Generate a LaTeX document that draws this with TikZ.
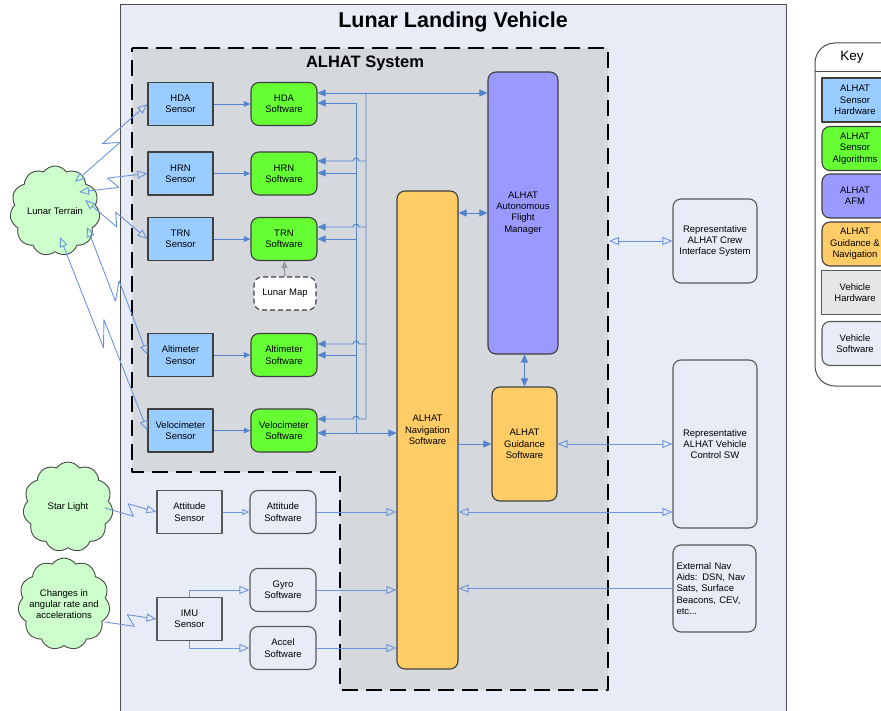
\documentclass[tikz,border=0pt]{standalone}
\usepackage{fontspec}
\setmainfont{Liberation Sans}
\usetikzlibrary{arrows.meta,calc,shapes.symbols}
\definecolor{vehiclebg}{HTML}{E7ECF6}
\definecolor{systemgray}{HTML}{D5D8DD}
\definecolor{sensorblue}{HTML}{99CCFF}
\definecolor{algogreen}{HTML}{66FF33}
\definecolor{afmpurple}{HTML}{9999FF}
\definecolor{gnorange}{HTML}{FFCC66}
\definecolor{hwgray}{HTML}{E6E6E6}
\definecolor{cloudgreen}{HTML}{CCFFCC}
\definecolor{linkblue}{HTML}{5283CC}
\definecolor{openblue}{HTML}{6B94DC}
\definecolor{boxedge}{HTML}{3F3F3F}

% lightning connector: from a cloud point to a sensor
\newcommand\zap[3][]{%
  \draw[zapline,#1] (#2) -- ($(#2)!0.56!(#3)!6pt!-90:(#3)$)
    -- ($(#2)!0.44!(#3)!6pt!90:(#3)$) -- (#3);}

\begin{document}
\begin{tikzpicture}[
  x=1pt,y=-1pt,
  line join=round,
  every node/.style={font=\fontsize{9.5}{11.3}\selectfont,align=center},
  hw/.style={draw=boxedge,line width=1.1pt,minimum width=65pt,minimum height=43pt,inner sep=1pt},
  sensorhw/.style={hw,fill=sensorblue},
  vehiclehw/.style={hw,draw=gray!70!black,fill=vehiclebg},
  sw/.style={hw,rounded corners=8pt,minimum width=66pt},
  sensoralgo/.style={sw,fill=algogreen},
  afmbox/.style={sw,fill=afmpurple},
  gnbox/.style={sw,fill=gnorange},
  vehiclesw/.style={sw,draw=gray!70!black,fill=vehiclebg},
  mapbox/.style={sw,fill=white,dash pattern=on 5pt off 3pt,minimum width=62pt,minimum height=33pt},
  cloudy/.style={cloud,cloud puffs=11,cloud puff arc=110,aspect=1,draw=gray!55!black,
    line width=0.9pt,fill=cloudgreen,minimum width=90pt,minimum height=90pt,inner sep=0pt},
  feed/.style={draw=linkblue,line width=0.9pt,-{Triangle[length=8pt,width=7pt]}},
  feedboth/.style={feed,{Triangle[length=8pt,width=7pt]}-{Triangle[length=8pt,width=7pt]}},
  feedsmall/.style={feed,-{Triangle[length=6.5pt,width=5.5pt]}},
  openlink/.style={draw=openblue,line width=0.9pt,-{Triangle[open,length=10pt,width=8pt]}},
  openboth/.style={openlink,{Triangle[open,length=10pt,width=8pt]}-{Triangle[open,length=10pt,width=8pt]}},
  zapline/.style={draw=openblue,line width=0.8pt},
  hop/.style={start angle=0,end angle=-180,radius=3}
]
  \useasboundingbox (0,0) rectangle (881,711);
  \clip (0,0) rectangle (881,711);

  % Vehicle frame and the dashed ALHAT region.
  \draw[fill=vehiclebg,draw=gray!60!black,line width=1pt] (120,5) rectangle (786,730);
  \path[fill=systemgray,draw=black,line width=1.6pt,dash pattern=on 16pt off 8pt]
    (132,48) -- (608,48) -- (608,690) -- (340,690) -- (340,472) -- (132,472) -- cycle;
  \node[font=\fontsize{21.5}{24}\selectfont\bfseries] (vehicletitle) at (453,22) {Lunar Landing Vehicle};
  \node[font=\fontsize{16.5}{19}\selectfont\bfseries] (systemtitle) at (365,63) {ALHAT System};

  % ALHAT sensors and their algorithms.
  \node[sensorhw] (hda-sen) at (180.5,104) {HDA\\Sensor};
  \node[sensorhw] (hrn-sen) at (180.5,173.5) {HRN\\Sensor};
  \node[sensorhw] (trn-sen) at (180.5,239) {TRN\\Sensor};
  \node[sensorhw] (alt-sen) at (180.5,355) {Altimeter\\Sensor};
  \node[sensorhw] (vel-sen) at (180.5,430.5) {Velocimeter\\Sensor};

  \node[sensoralgo] (hda-sw) at (284,104) {HDA\\Software};
  \node[sensoralgo] (hrn-sw) at (284,173.5) {HRN\\Software};
  \node[sensoralgo] (trn-sw) at (284,239) {TRN\\Software};
  \node[sensoralgo] (alt-sw) at (284,355) {Altimeter\\Software};
  \node[sensoralgo] (vel-sw) at (284,430.5) {Velocimeter\\Software};
  \node[mapbox] (lunarmap) at (285,293.5) {Lunar Map};

  % Guidance, navigation and flight management.
  \node[gnbox,minimum width=61pt,minimum height=478pt] (nav) at (427.5,430) {ALHAT\\Navigation\\Software};
  \node[afmbox,minimum width=70pt,minimum height=282pt] (afm) at (523,213) {ALHAT\\Autonomous\\Flight\\Manager};
  \node[gnbox,minimum width=65pt,minimum height=114pt] (guid) at (524.5,444) {ALHAT\\Guidance\\Software};

  % Vehicle side boxes.
  \node[vehiclesw,minimum width=84pt,minimum height=84pt] (crew) at (715,241) {Representative\\ALHAT Crew\\Interface System};
  \node[vehiclesw,minimum width=84pt,minimum height=168pt] (vehctl) at (715,444) {Representative\\ALHAT Vehicle\\Control SW};
  \node[vehiclesw,minimum width=83pt,minimum height=87pt,text width=76pt,inner sep=3pt,align=left] (extnav) at (714.5,588.5)
    {External Nav\\Aids: DSN, Nav\\Sats, Surface\\Beacons, CEV,\\etc...};
  \node[vehiclehw] (att-sen) at (189.5,512) {Attitude\\Sensor};
  \node[vehiclesw] (att-sw) at (283,512) {Attitude\\Software};
  \node[vehiclesw] (gyro-sw) at (283,590) {Gyro\\Software};
  \node[vehiclesw] (accel-sw) at (283,648) {Accel\\Software};
  \node[vehiclehw] (imu-sen) at (189.5,619) {IMU\\Sensor};

  % Outside sources.
  \node[cloudy] (terrain) at (55,211) {};
  \node (terraintext) at (terrain) {Lunar Terrain};
  \node[cloudy] (starlight) at (68,507) {};
  \node (startext) at (starlight) {Star Light};
  \node[cloudy,minimum width=92pt,minimum height=92pt] (rates) at (64,604) {};
  \node (ratestext) at (rates) {Changes in\\angular rate and\\accelerations};

  % Sensor data into the algorithms.
  \foreach \n in {hda,hrn,trn,alt,vel} {
    \draw[feedsmall] (\n-sen) -- (\n-sw);
  }
  \draw[draw=gray!80,line width=1.2pt,-{Triangle[length=7pt,width=6pt]}] (lunarmap) -- (trn-sw);

  % Bus to the flight manager (x=366) and to navigation (x=356).
  \draw[feedboth] (hda-sw.east |- 0,93) -- (afm.west |- 0,93);
  \draw[feed] (366,93) -- (366,419) -- (359,419) arc[hop] -- (vel-sw.east |- 0,419);
  \foreach \n/\ya in {hrn/161,trn/227,alt/344} {
    \draw[feed] (366,\ya) -- (359,\ya) arc[hop] -- (\n-sw.east |- 0,\ya);
  }
  \draw[draw=linkblue,line width=0.9pt] (356,103) -- (356,433);
  \foreach \n/\yb in {hda/103,hrn/173,trn/239,alt/355} {
    \draw[feed] (356,\yb) -- (\n-sw.east |- 0,\yb);
  }
  \draw[feedboth] (vel-sw.east |- 0,433) -- (nav.west |- 0,433);

  \draw[feedboth] (nav.east |- 0,213) -- (afm.west |- 0,213);
  \draw[feedboth] (guid.north) -- (guid.north |- afm.south);
  \draw[feed] (nav.east |- 0,512) -- (nav.east |- 0,444) -- (guid.west);

  % Links to the vehicle.
  \coordinate (crewport) at (609,241);
  \draw[openboth] (crewport) -- (crew.west);
  \draw[openboth] (guid.east) -- (vehctl.west |- guid.east);
  \draw[openboth] (nav.east |- 0,512) -- (vehctl.west |- 0,512);
  \draw[openlink] (extnav.west) -- (nav.east |- extnav.west);

  \draw[openlink,-{Triangle[open,length=7pt,width=6pt]}] (att-sen) -- (att-sw);
  \draw[openlink] (att-sw) -- (nav.west |- att-sw);
  \draw[openlink] (gyro-sw) -- (nav.west |- gyro-sw);
  \draw[openlink] (accel-sw) -- (nav.west |- accel-sw);
  \draw[openlink] (imu-sen.north) |- (gyro-sw.west);
  \draw[openlink] (imu-sen.south) |- (accel-sw.west);

  % Lightning links from the outside sources.
  \coordinate (tz1) at (75,182);
  \coordinate (tz2) at (79,192);
  \coordinate (tz3) at (85,200);
  \coordinate (tz4) at (87,227);
  \coordinate (tz5) at (60,237);
  \coordinate (sz) at (105,508);
  \coordinate (rz) at (105,622);
  \zap[openboth]{tz1}{hda-sen.west}
  \zap[openboth]{tz2}{hrn-sen.west}
  \zap[openboth]{tz3}{trn-sen.west}
  \zap[openboth]{tz4}{alt-sen.west}
  \zap[openboth]{tz5}{vel-sen.west}
  \zap[openlink]{sz}{att-sen.west}
  \zap[openlink]{rz}{imu-sen.west}

  % Key.
  \draw[draw=gray!60!black,line width=1pt,fill=white,rounded corners=20pt] (815,43) rectangle (905,386);
  \draw[draw=gray!60!black,line width=1pt] (815,72) -- (905,72);
  \node[font=\fontsize{13.5}{16}\selectfont] (keytitle) at (852,57) {Key};
  \foreach \st/\txt/\yy [count=\k] in {
      sensorhw/{ALHAT\\Sensor\\Hardware}/100,
      sensoralgo/{ALHAT\\Sensor\\Algorithms}/148.5,
      afmbox/{ALHAT\\AFM}/196,
      gnbox/{ALHAT\\Guidance \&\\Navigation}/244,
      vehiclehw/{Vehicle\\Hardware}/292.5,
      vehiclesw/{Vehicle\\Software}/343.5} {
    \node[\st,minimum width=66pt,minimum height=44pt] (key\k) at (855,\yy) {\txt};
  }
  \fill[hwgray] (key5.north west) ++(0.6,0.6) rectangle ($(key5.south east)+(-0.6,-0.6)$);
  \node (key5text) at (key5) {Vehicle\\Hardware};
\end{tikzpicture}
\end{document}
